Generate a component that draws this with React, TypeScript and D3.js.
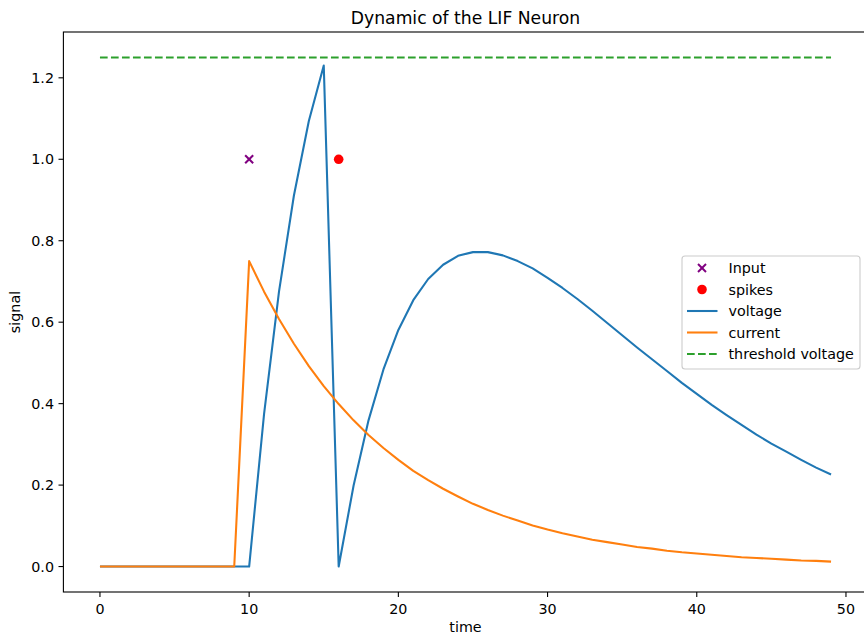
import * as d3 from 'd3';

// time runs 0..49, one value per step
const CURRENT = [
  0, 0, 0, 0, 0, 0, 0, 0, 0, 0,
  0.75, 0.675, 0.608, 0.547, 0.492, 0.443, 0.399, 0.359, 0.323, 0.291,
  0.262, 0.235, 0.212, 0.191, 0.172, 0.154, 0.139, 0.125, 0.113, 0.101,
  0.091, 0.082, 0.074, 0.066, 0.06, 0.054, 0.048, 0.044, 0.039, 0.035,
  0.032, 0.029, 0.026, 0.023, 0.021, 0.019, 0.017, 0.015, 0.014, 0.012,
];
const VOLTAGE = [
  0, 0, 0, 0, 0, 0, 0, 0, 0, 0,
  0, 0.375, 0.675, 0.911, 1.094, 1.23, 0, 0.199, 0.359, 0.484,
  0.581, 0.654, 0.706, 0.741, 0.763, 0.772, 0.772, 0.764, 0.75, 0.732,
  0.709, 0.684, 0.657, 0.628, 0.598, 0.568, 0.538, 0.509, 0.48, 0.451,
  0.424, 0.397, 0.372, 0.348, 0.324, 0.302, 0.282, 0.262, 0.243, 0.226,
];
const INPUT_T = [10];
const INPUT_V = [1.0];
const SPIKE_T = [16];
const SPIKE_V = [1.0];
const THRESHOLD = 1.25;
const X_TICKS = [0, 10, 20, 30, 40, 50];
const Y_TICKS = [0, 0.2, 0.4, 0.6, 0.8, 1.0, 1.2];

const W = 864;
const H = 634;
const FONT = '"DejaVu Sans", sans-serif';
const FS = 14.3;
const BLUE = '#1f77b4';
const ORANGE = '#ff7f0e';
const GREEN = '#2ca02c';

export default function App() {
  const x = d3.scaleLinear().domain([-2.45, 51.45]).range([63.4, 867.6]);
  const y = d3.scaleLinear().domain([-0.0625, 1.3125]).range([592, 32]);
  const [x0, x1] = x.range();
  const [yb, yt] = y.range();

  const line = d3.line<number>().x((_, i) => x(i)).y((d) => y(d));
  const tEnd = CURRENT.length - 1;

  const legendRows = [
    { label: 'Input', kind: 'x' },
    { label: 'spikes', kind: 'dot' },
    { label: 'voltage', kind: 'line', color: BLUE },
    { label: 'current', kind: 'line', color: ORANGE },
    { label: 'threshold voltage', kind: 'dash', color: GREEN },
  ];
  const lx = 682, ly = 256, rowH = 21.5;

  return (
    <svg width={W} height={H} style={{ position: 'absolute', left: 0, top: 0, background: '#fff' }}
      fontFamily={FONT}>
      {/* threshold */}
      <line x1={x(0)} x2={x(tEnd)} y1={y(THRESHOLD)} y2={y(THRESHOLD)}
        stroke={GREEN} strokeWidth={2.08} strokeDasharray="7.7 3.3" />
      <path d={line(VOLTAGE) ?? ''} fill="none" stroke={BLUE} strokeWidth={2.08} strokeLinejoin="round" />
      <path d={line(CURRENT) ?? ''} fill="none" stroke={ORANGE} strokeWidth={2.08} strokeLinejoin="round" />

      {/* input markers */}
      {INPUT_T.map((t, i) => (
        <g key={'in' + i} transform={`translate(${x(t)},${y(INPUT_V[i])})`} stroke="purple" strokeWidth={2}>
          <line x1={-4} y1={-4} x2={4} y2={4} />
          <line x1={-4} y1={4} x2={4} y2={-4} />
        </g>
      ))}
      {SPIKE_T.map((t, i) => (
        <circle key={'sp' + i} cx={x(t)} cy={y(SPIKE_V[i])} r={4.8} fill="red" />
      ))}

      {/* spines */}
      <rect x={x0} y={yt} width={x1 - x0} height={yb - yt} fill="none" stroke="#000" strokeWidth={1.1} />

      {/* x axis */}
      {X_TICKS.map((t) => (
        <g key={'xt' + t}>
          <line x1={x(t)} x2={x(t)} y1={yb} y2={yb + 4.9} stroke="#000" strokeWidth={1.1} />
          <text x={x(t)} y={613.5} textAnchor="middle" fontSize={FS} fill="#000">{t}</text>
        </g>
      ))}
      {/* y axis */}
      {Y_TICKS.map((t) => (
        <g key={'yt' + t}>
          <line x1={x0 - 4.9} x2={x0} y1={y(t)} y2={y(t)} stroke="#000" strokeWidth={1.1} />
          <text x={54} y={y(t)} dy="0.36em" textAnchor="end" fontSize={FS} fill="#000">{t.toFixed(1)}</text>
        </g>
      ))}

      <text x={(x0 + x1) / 2} y={24} textAnchor="middle" fontSize={17.2} fill="#000">Dynamic of the LIF Neuron</text>
      <text x={(x0 + x1) / 2} y={632} textAnchor="middle" fontSize={FS} fill="#000">time</text>
      <text transform={`translate(20,${(yt + yb) / 2}) rotate(-90)`} textAnchor="middle" fontSize={FS} fill="#000">signal</text>

      {/* legend */}
      <rect x={lx} y={ly} width={178} height={113} rx={3} fill="#fff" fillOpacity={0.8} stroke="#ccc" strokeWidth={1.1} />
      {legendRows.map((r, i) => {
        const cy = 268 + i * rowH;
        return (
          <g key={r.label}>
            {r.kind === 'x' && (
              <g transform={`translate(702,${cy})`} stroke="purple" strokeWidth={2}>
                <line x1={-4} y1={-4} x2={4} y2={4} />
                <line x1={-4} y1={4} x2={4} y2={-4} />
              </g>
            )}
            {r.kind === 'dot' && <circle cx={702} cy={cy} r={4.8} fill="red" />}
            {r.kind === 'line' && <line x1={687} x2={717.5} y1={cy} y2={cy} stroke={r.color} strokeWidth={2.08} />}
            {r.kind === 'dash' && (
              <line x1={687} x2={717.5} y1={cy} y2={cy} stroke={r.color} strokeWidth={2.08} strokeDasharray="7.7 3.3" />
            )}
            <text x={728.5} y={cy} dy="0.36em" fontSize={FS} fill="#000">{r.label}</text>
          </g>
        );
      })}
    </svg>
  );
}
